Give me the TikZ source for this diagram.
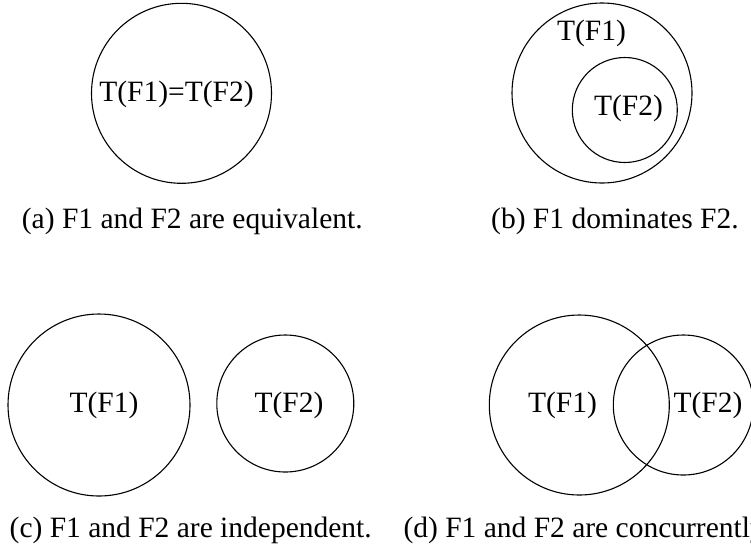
\documentclass[tikz,border=0pt]{standalone}
\usepackage{fontspec}
\setmainfont{Liberation Serif}
\begin{document}
\begin{tikzpicture}[x=1pt,y=-1pt,
  setc/.style={draw=black,line width=1.1pt,circle,inner sep=0pt},
  lbl/.style={inner sep=0pt,font=\fontsize{29.5}{35}\selectfont},
  captxt/.style={inner sep=0pt,anchor=west,font=\fontsize{29.5}{35}\selectfont}]
\clip (0,0) rectangle (751,550);
\fill[white] (0,0) rectangle (751,550);
% (a) equivalent
\node[setc,minimum size=180pt] (a1) at (181.5,93.3) {};
\node[lbl] (a1t) at (176.5,94) {T(F1)=T(F2)};
\node[captxt] (acap) at (21.7,221) {(a) F1 and F2 are equivalent.};
% (b) domination
\node[setc,minimum size=180pt] (b1) at (602,93) {};
\node[setc,minimum size=105pt] (b2) at (624.8,110) {};
\node[lbl] (b1t) at (591.5,33) {T(F1)};
\node[lbl] (b2t) at (628.5,108) {T(F2)};
\node[captxt] (bcap) at (491,221) {(b) F1 dominates F2.};
% (c) independent
\node[setc,minimum size=182pt] (c1) at (99,405) {};
\node[setc,minimum size=137pt] (c2) at (285.3,403.5) {};
\node[lbl] (c1t) at (104,405) {T(F1)};
\node[lbl] (c2t) at (289,405) {T(F2)};
\node[captxt] (ccap) at (9.5,530) {(c) F1 and F2 are independent.};
% (d) concurrent
\node[setc,minimum size=180pt] (d1) at (579.3,405) {};
\node[setc,minimum size=140pt] (d2) at (683.3,405) {};
\node[lbl] (d1t) at (562.5,405) {T(F1)};
\node[lbl] (d2t) at (708,405) {T(F2)};
\node[captxt] (dcap) at (403.3,530) {(d) F1 and F2 are concurrently.};
\end{tikzpicture}
\end{document}
